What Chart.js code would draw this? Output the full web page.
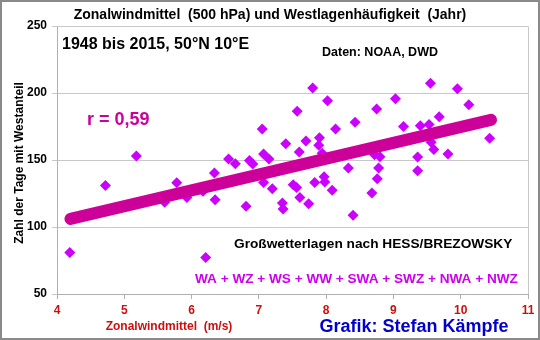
<!DOCTYPE html>
<html>
<head>
<meta charset="utf-8">
<script src="https://cdn.jsdelivr.net/npm/chart.js@4"></script>
<style>
  html, body { margin: 0; padding: 0; background: #fff; }
</style>
</head>
<body>
<canvas id="myChart" width="540" height="340"></canvas>
<script>
// Zonalwindmittel (m/s) und Westlagentage pro Jahr, 1948-2015
const windSpeed = [
  4.19, 4.72, 5.18, 5.60, 5.78, 5.93, 6.17, 6.35, 6.34, 6.21,
  6.55, 6.65, 6.81, 6.86, 6.91, 7.05, 7.07, 7.15, 7.07, 7.20,
  7.35, 7.36, 7.40, 7.51, 7.56, 7.57, 7.60, 7.61, 7.70, 7.74,
  7.80, 7.83, 7.90, 7.89, 7.94, 7.97, 7.98, 8.02, 8.09, 8.14,
  8.33, 8.40, 8.43, 8.68, 8.72, 8.80, 8.78, 8.76, 8.75, 9.03,
  9.15, 9.36, 9.36, 9.40, 9.53, 9.55, 9.56, 9.60, 9.68, 9.81,
  9.95, 10.12, 10.43
];
const westDays = [
  81, 131, 153, 118.5, 133, 122, 126.6, 120.4, 140.3, 77.3,
  150.7, 147.2, 115.4, 149.6, 147, 173.1, 154.5, 150.7, 133.3, 128.5,
  117.9, 113.4, 162.2, 131.6, 129.5, 186.3, 156, 122, 164.2, 117.4,
  203.7, 133.3, 166.6, 161, 155, 137.5, 133.5, 194.2, 127.5, 173.2,
  144, 108.7, 178.2, 125.4, 154, 152.4, 144, 136, 188.1, 195.8,
  175, 152.3, 142, 175.5, 176.5, 207.2, 163.3, 157.9, 182.2, 154.5,
  203.1, 191.3, 166.3
];

// lineare Regression (r = 0,59)
const trendX = [4.2, 10.45];
const trendY = [106, 180];

const xRange = [4, 11];
const yRange = [50, 250];

const scatterPoints = windSpeed.map((x, i) => ({ x: x, y: westDays[i] }));
const trendPoints = trendX.map((x, i) => ({ x: x, y: trendY[i] }));

const FONT = 'Liberation Sans, Arial, sans-serif';

const textPlugin = {
  id: 'textPlugin',
  beforeDatasetsDraw(chart) {
    const { ctx, chartArea: a } = chart;
    ctx.save();
    ctx.strokeStyle = '#c8c8c8';
    ctx.lineWidth = 1;
    ctx.beginPath();
    ctx.moveTo(a.left, a.top + 0.5);
    ctx.lineTo(a.right + 0.5, a.top + 0.5);
    ctx.lineTo(a.right + 0.5, a.bottom);
    ctx.stroke();
    ctx.restore();
  },
  afterDraw(chart) {
    const ctx = chart.ctx;
    const txt = (s, x, y, size, color, align) => {
      ctx.font = 'bold ' + size + 'px ' + FONT;
      ctx.fillStyle = color;
      ctx.textAlign = align || 'left';
      ctx.textBaseline = 'middle';
      ctx.fillText(s, x, y);
    };
    ctx.save();
    txt('Zonalwindmittel  (500 hPa) und Westlagenhäufigkeit  (Jahr)', 270, 15, 14, '#000', 'center');
    txt('1948 bis 2015, 50°N 10°E', 62, 45, 16, '#000');
    txt('Daten: NOAA, DWD', 322, 53, 12.5, '#000');
    txt('r = 0,59', 87, 120, 18, '#cc0099');
    txt('Großwetterlagen nach HESS/BREZOWSKY', 234, 244, 13.7, '#000');
    txt('WA + WZ + WS + WW + SWA + SWZ + NWA + NWZ', 195, 279, 13.6, '#cc00ee');
    txt('Zonalwindmittel  (m/s)', 169, 327, 12, '#cc1010', 'center');
    txt('Grafik: Stefan Kämpfe', 414, 327, 18, '#0000cc', 'center');

    ctx.translate(20, 163);
    ctx.rotate(-Math.PI / 2);
    txt('Zahl der Tage mit Westanteil', 0, 0, 12, '#000', 'center');
    ctx.restore();

    // Rahmen um die Grafik
    ctx.save();
    ctx.strokeStyle = '#8a8a8a';
    ctx.lineWidth = 2;
    ctx.strokeRect(1, 1, 538, 338);
    ctx.restore();
  }
};

const config = {
  type: 'scatter',
  data: {
    datasets: [
      {
        label: 'Trend',
        type: 'line',
        data: trendPoints,
        borderColor: '#cc0099',
        borderWidth: 12,
        borderCapStyle: 'round',
        pointRadius: 0,
        fill: false,
        order: 0
      },
      {
        label: 'Jahre',
        data: scatterPoints,
        pointStyle: 'rectRot',
        pointRadius: 5.5,
        backgroundColor: '#cc00ff',
        borderColor: '#cc00ff',
        borderWidth: 0,
        order: 1
      }
    ]
  },
  options: {
    responsive: false,
    animation: false,
    layout: { padding: { top: 26, right: 12, bottom: 0, left: 0 } },
    plugins: {
      legend: { display: false },
      tooltip: { enabled: false }
    },
    scales: {
      x: {
        type: 'linear',
        min: xRange[0],
        max: xRange[1],
        afterFit(scale) { scale.height = 46; },
        ticks: {
          stepSize: 1,
          color: '#cc1010',
          font: { family: FONT, size: 12, weight: 'bold' },
          padding: 4
        },
        grid: { drawOnChartArea: false, tickLength: 5, color: '#b0b0b0' },
        border: { color: '#b0b0b0' }
      },
      y: {
        min: yRange[0],
        max: yRange[1],
        afterFit(scale) { scale.width = 57; },
        ticks: {
          stepSize: 50,
          color: '#000',
          font: { family: FONT, size: 12, weight: 'bold' },
          padding: 5
        },
        grid: { color: '#c8c8c8', tickLength: 5 },
        border: { color: '#b0b0b0' }
      }
    }
  },
  plugins: [textPlugin]
};

const myChart = new Chart(document.getElementById('myChart'), config);
</script>
</body>
</html>
